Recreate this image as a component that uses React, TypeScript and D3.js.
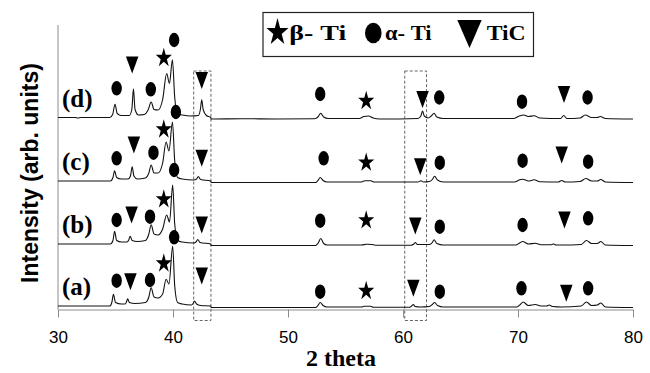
import { useRef, useEffect } from "react"
import * as d3 from "d3"

type Pt = [number, number]
type Phase = "beta" | "alpha" | "tic"
type Mark = [Phase, number, number]

// 2-theta ticks and the four samples, stacked from bottom (a) to top (d)
const xTicks = [30, 40, 50, 60, 70, 80]
const sampleLabels = ["(a)", "(b)", "(c)", "(d)"]
const sampleOffsets = [0, 62, 125, 188.5]

// traces: [2theta, intensity above own baseline]
const traceA: Pt[] = [
  [30, 1.5], [34.5, 1.5], [34.68, 5], [34.82, 13.2], [35.0, 5], [35.5, 3.5], [35.85, 3.5], [35.95, 5.5], [36.06, 8.8],
  [36.2, 5], [36.7, 4], [37.6, 5], [37.9, 10.5], [38.1, 19.8], [38.35, 10.5], [38.7, 9.5], [39.1, 13.5], [39.4, 28.2],
  [39.65, 23.5], [39.97, 61.5], [40.15, 21.5], [40.4, 5], [40.8, 3.5], [41.6, 2.5], [41.75, 4], [41.87, 6.5], [42.05, 3.5],
  [42.4, 2], [43.28, 1.5],
  [43.32, 0], [52.4, 0], [52.6, 2], [52.8, 5], [53.05, 2], [53.4, 0.5], [56.4, 0.5], [56.6, 1.2], [57.2, 1.2], [57.4, 0.3],
  [60.6, 0.3], [60.75, 1.5], [60.9, 3], [61.05, 1], [61.5, 0.5], [62.3, 1], [62.55, 3], [62.75, 5], [63, 2], [63.5, 0.5],
  [69.9, 0.5], [70.2, 3], [70.45, 5.5], [70.9, 2], [71.5, 3], [72, 1.5], [72.5, 1.5], [72.7, 2.5], [73, 1], [73.8, 0.5],
  [75.5, 1.5], [75.95, 5.5], [76.4, 2], [76.9, 2.5], [77.2, 4.5], [77.6, 0.5], [80, 0],
]
const traceB: Pt[] = [
  [30, 1.5], [34.55, 1.5], [34.78, 5], [34.92, 14.2], [35.1, 5], [35.5, 3.5], [36.0, 3.5], [36.15, 5.5], [36.27, 9.2],
  [36.45, 5], [36.9, 4], [37.6, 5], [37.9, 11.5], [38.1, 20.8], [38.35, 11.5], [38.7, 10.5], [39.1, 16.5], [39.45, 30.5],
  [39.7, 23.5], [39.97, 60.5], [40.15, 21.5], [40.4, 5], [40.8, 3.5], [41.8, 2.5], [42.0, 3.5], [42.15, 6], [42.35, 3],
  [43.28, 1.5],
  [43.32, 0], [52.4, 0], [52.6, 2], [52.85, 7], [53.1, 2], [53.4, 0.5], [56.4, 0.5], [56.8, 1.3], [57.3, 1], [57.6, 0.3],
  [60.7, 0.3], [60.95, 1.5], [61.07, 3], [61.25, 1], [62.3, 1], [62.55, 3], [62.7, 5.7], [62.95, 2], [63.5, 0.5],
  [69.8, 0.5], [70.2, 3], [70.4, 4], [70.9, 1.5], [71.5, 2.3], [72, 0.8], [72.9, 0.8], [73.1, 1.5], [73.3, 0.5],
  [73.8, 0.5], [75.5, 1], [75.95, 5], [76.4, 2], [76.9, 2], [77.2, 4], [77.6, 0.5], [80, 0],
]
const traceC: Pt[] = [
  [30, 1.5], [34.55, 1.5], [34.78, 5], [34.92, 11.8], [35.1, 5], [35.5, 3.5], [36.1, 3.5], [36.3, 6.5], [36.45, 15.8],
  [36.6, 6.5], [36.9, 3.5], [37.6, 4.5], [37.9, 9.5], [38.1, 17.5], [38.35, 9.5], [38.7, 9.5], [39.1, 19.5], [39.4, 40.5],
  [39.65, 31.5], [39.95, 60.5], [40.15, 21.5], [40.4, 5], [40.8, 3.5], [41.8, 2.5], [42.05, 3.5], [42.2, 6], [42.4, 3],
  [43.28, 1.5],
  [43.32, 0], [52.4, 0], [52.6, 2], [52.8, 5], [53.05, 2], [53.4, 0.5], [56.3, 0.5], [56.7, 1.7], [57.2, 1.7], [57.5, 0.5],
  [61.3, 0.5], [61.55, 1.7], [61.8, 0.5], [62.3, 1], [62.55, 3], [62.75, 6.3], [63, 2.5], [63.5, 0.5], [69.7, 0.5],
  [70.1, 2.5], [70.4, 3.3], [70.9, 1.5], [71.4, 2.7], [71.9, 0.8], [73.5, 0.5], [73.8, 2], [74.1, 0.5], [75.4, 1],
  [75.9, 4], [76.4, 1.5], [76.9, 1.5], [77.2, 3], [77.6, 0.5], [80, 0],
]
const traceD: Pt[] = [
  [30, 1.5], [31.5, 1.5], [31.7, 1], [32, 1.5], [34.5, 1.5], [34.75, 4.5], [34.96, 14.8], [35.15, 5.5], [35.5, 3.5],
  [36.2, 3.5], [36.42, 9.5], [36.56, 30.2], [36.7, 9.5], [37.0, 4], [37.5, 4.5], [37.85, 9.5], [38.1, 17], [38.35, 9.5],
  [38.7, 9], [39.1, 19.5], [39.45, 45.5], [39.69, 35.5], [39.95, 59.2], [40.15, 21.5], [40.4, 5], [40.8, 4], [41.5, 3],
  [42.2, 3.5], [42.38, 9.5], [42.5, 19.2], [42.62, 9.5], [42.9, 3.5], [43.28, 1.5],
  [43.32, 0], [46, 0.3], [49, 0], [52.3, 0.3], [52.6, 2], [52.85, 5.7], [53.1, 2], [53.5, 0.5], [56.2, 0.5], [56.6, 2.5],
  [57.0, 3], [57.4, 1], [58, 0], [61.3, 0.5], [61.55, 3], [61.7, 8], [61.85, 3], [62.2, 1], [62.45, 3], [62.7, 5.7],
  [62.95, 2], [63.5, 0.5], [69.6, 0.5], [70.1, 3], [70.5, 4], [70.9, 2.5], [71.4, 3.3], [71.9, 1], [73.7, 0.5],
  [73.98, 3.5], [74.25, 0.5], [75.4, 1], [75.85, 4], [76.4, 1.5], [76.9, 1.5], [77.15, 2.5], [77.6, 0.5], [80, 0],
]
const traces = [traceA, traceB, traceC, traceD]

// phase markers: [phase, 2theta, height above the sample's baseline]
const marksA: Mark[] = [
  ["alpha", 35.1, 26.8], ["tic", 36.3, 25.8], ["alpha", 38.0, 27.5], ["beta", 39.2, 45], ["tic", 42.5, 31.5],
  ["alpha", 52.8, 15.8], ["beta", 56.8, 17.5], ["tic", 60.9, 19.2], ["alpha", 63.2, 15.8], ["alpha", 70.3, 19.2],
  ["tic", 74.2, 14.2], ["alpha", 76.1, 19.2],
]
const marksB: Mark[] = [
  ["alpha", 35.1, 25.5], ["tic", 36.4, 30.5], ["alpha", 38.0, 28.8], ["beta", 39.2, 47.2], ["alpha", 40.1, 8.2],
  ["tic", 42.5, 20.5], ["alpha", 52.8, 24.8], ["beta", 56.8, 26.2], ["tic", 61.07, 19.5], ["alpha", 63.2, 18.8],
  ["alpha", 70.4, 20.5], ["tic", 74.04, 25.5], ["alpha", 76.1, 27.2],
]
const marksC: Mark[] = [
  ["alpha", 35.1, 24.2], ["tic", 36.6, 37.5], ["alpha", 38.3, 29.8], ["beta", 39.2, 54], ["alpha", 40.1, 12.5],
  ["tic", 42.5, 24.2], ["alpha", 53.1, 24.2], ["beta", 56.8, 20.8], ["tic", 61.5, 15.8], ["alpha", 63.2, 19.8],
  ["alpha", 70.4, 21.8], ["tic", 73.8, 27.5], ["alpha", 76.1, 20.8],
]
const marksD: Mark[] = [
  ["alpha", 35.1, 30.7], ["tic", 36.45, 54], ["alpha", 38.07, 29.7], ["beta", 39.2, 62], ["alpha", 40.1, 79],
  ["alpha", 40.25, 7], ["tic", 42.5, 38.5], ["alpha", 52.8, 25], ["beta", 56.8, 19], ["tic", 61.7, 19.5],
  ["alpha", 63.15, 21.5], ["alpha", 70.35, 17.3], ["tic", 74.0, 24.5], ["alpha", 76.05, 21.5],
]
const marks = [marksA, marksB, marksC, marksD]

const legendItems: [Phase, string][] = [["beta", "β- Ti"], ["alpha", "α- Ti"], ["tic", "TiC"]]
// dotted boxes around the TiC reflections, 2theta ranges
const boxes: Pt[] = [[41.8, 43.3], [60.15, 62.05]]

const SERIF = '"Liberation Serif", "Times New Roman", serif'
const SANS = '"Liberation Sans", Arial, sans-serif'
const AXIS_Y = 309.5
const GRAY = "#8c8c8c"

const x = d3.scaleLinear().domain([30, 80]).range([58, 633])
const y = d3.scaleLinear().domain([0, 285]).range([307.5, 22.5])

function Marker({ phase, cx, cy, big = false }: { phase: Phase; cx: number; cy: number; big?: boolean }) {
  if (phase === "alpha")
    return <ellipse cx={cx} cy={cy} rx={big ? 8.3 : 5.2} ry={big ? 10.3 : 7.2} fill="#000" />
  if (phase === "tic") {
    const w = big ? 24.4 : 12.5, h = big ? 28 : 17
    return <path d={`M${cx - w / 2},${cy - h / 2}L${cx + w / 2},${cy - h / 2}L${cx},${cy + h / 2}Z`} fill="#000" />
  }
  const size = big ? 150 : 80, sy = big ? 1.25 : 1.2
  const r = Math.sqrt(size * 0.8908130915292852)
  return (
    <path d={d3.symbol(d3.symbolStar, size)() || ""} fill="#000"
      transform={`translate(${cx},${cy + 0.095 * r * sy}) scale(1,${sy})`} />
  )
}

export default function App() {
  const axisRef = useRef<SVGGElement>(null)
  useEffect(() => {
    if (!axisRef.current) return
    const g = d3.select(axisRef.current)
    g.selectAll("*").remove()
    g.call(d3.axisBottom(x).tickValues(xTicks).tickSize(8).tickSizeOuter(0).tickPadding(13).tickFormat(d3.format("d")))
    g.select(".domain").attr("stroke", GRAY)
    g.selectAll(".tick line").attr("stroke", GRAY)
    g.selectAll(".tick text").attr("fill", "#000").attr("font-family", SANS).attr("font-size", 17)
  }, [])

  const lx = [277.5, 373.3, 469.5], ltx = [289.3, 385, 486.7], ltw = [57, 46.5, 39]
  const lyc = [31, 33, 34]

  return (
    <svg width={650} height={373} style={{ position: "absolute", left: 0, top: 0, background: "#fff" }}>
      <line x1={58} x2={58} y1={25} y2={AXIS_Y} stroke={GRAY} />
      <g ref={axisRef} transform={`translate(0,${AXIS_Y})`} />

      {boxes.map(([a, b], i) => (
        <rect key={i} x={x(a)} y={71} width={x(b) - x(a)} height={249.5} fill="none"
          stroke="#666" strokeWidth={1} strokeDasharray="3,2" />
      ))}

      {traces.map((t, i) => {
        const line = d3.line<Pt>().x(d => x(d[0])).y(d => y(d[1] + sampleOffsets[i])).curve(d3.curveMonotoneX)
        return <path key={i} d={line(t) || ""} fill="none" stroke="#111" strokeWidth={1.1} />
      })}

      {marks.map((ms, i) => ms.map((m, j) => (
        <Marker key={`${i}-${j}`} phase={m[0]} cx={x(m[1])} cy={y(m[2] + sampleOffsets[i])} />
      )))}

      {sampleLabels.map((s, i) => (
        <text key={s} x={62} y={y(sampleOffsets[i]) - 12.5} fontFamily={SERIF} fontWeight="bold" fontSize={25}>{s}</text>
      ))}

      <rect x={263} y={12.5} width={270.5} height={44} fill="#fff" stroke="#222" strokeWidth={1.2} />
      {legendItems.map(([p, label], i) => (
        <g key={p}>
          <Marker phase={p} cx={lx[i]} cy={lyc[i]} big />
          <text x={ltx[i]} y={40} fontFamily={SERIF} fontWeight="bold" fontSize={22}
            textLength={ltw[i]} lengthAdjust="spacingAndGlyphs">{label}</text>
        </g>
      ))}

      <text transform="translate(37.5,173) rotate(-90)" textAnchor="middle" fontFamily={SANS}
        fontWeight="bold" fontSize={23}>Intensity (arb. units)</text>
      <text x={341} y={366} textAnchor="middle" fontFamily={SERIF} fontWeight="bold" fontSize={24}>2 theta</text>
    </svg>
  )
}
